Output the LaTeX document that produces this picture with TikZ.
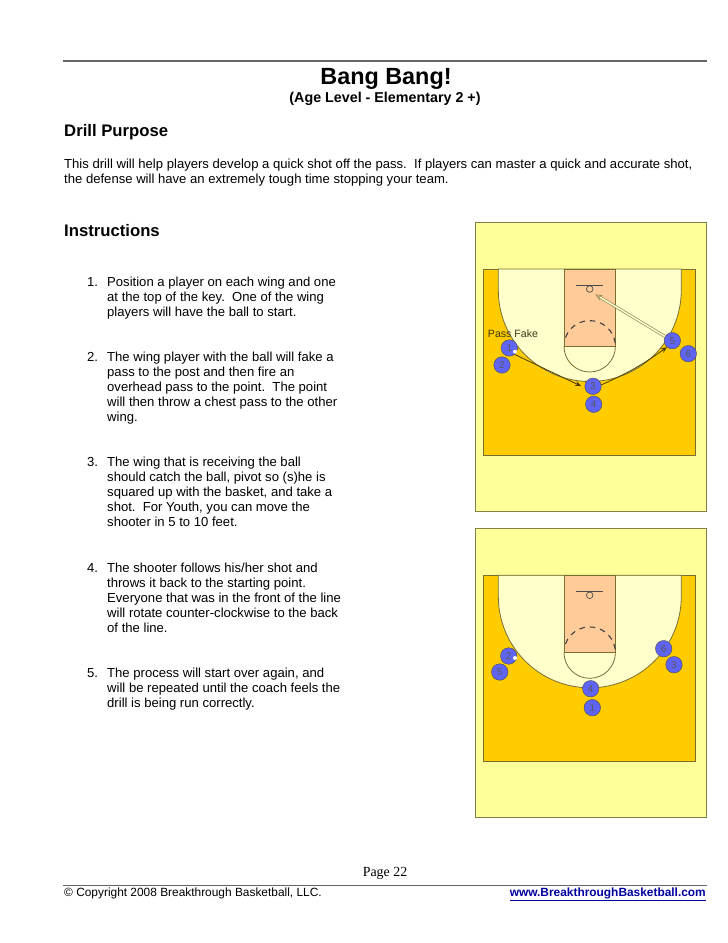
\documentclass[tikz,border=0pt]{standalone}
\usepackage{fontspec}
\setmainfont{Liberation Sans}
\newfontfamily\pagefont{Liberation Serif}
\usetikzlibrary{arrows.meta}
\definecolor{panelyellow}{RGB}{255,255,153}
\definecolor{courtgold}{RGB}{255,204,0}
\definecolor{laneorange}{RGB}{255,204,153}
\definecolor{arccream}{RGB}{255,255,204}
\definecolor{playerblue}{RGB}{95,100,245}
\definecolor{courtline}{RGB}{120,110,50}
\definecolor{linkblue}{RGB}{0,0,160}
\tikzset{
    bodytext/.style={anchor=north west, inner sep=0pt, align=left, font=\fontsize{13.1}{15}\selectfont},
    heading/.style={anchor=base west, inner sep=0pt, font=\fontsize{16.7}{18}\selectfont\bfseries},
    player/.style={circle, draw=black!70, fill=playerblue, minimum size=16.5pt, inner sep=0pt, font=\fontsize{10}{10}\selectfont, text=black!65},
    passline/.style={-{Stealth[length=6pt,width=5pt]}, draw=black!70!courtgold, line width=0.8pt},
}
% half court, (#1) is the top left corner of the gold floor
\newcommand{\drawcourt}[1]{
    \begin{scope}[shift={(#1)}]
        \draw[courtline, fill=courtgold, line width=0.9pt] (0,0) rectangle (212.5,186);
        \draw[courtline, fill=arccream, line width=0.8pt] (15,0) -- (15,21) arc[start angle=180, end angle=0, radius=91.5] -- (198,0) -- cycle;
        \draw[courtline, fill=arccream, line width=0.8pt] (80.7,77.3) arc[start angle=180, end angle=0, radius=25.7];
        \draw[courtline, fill=laneorange, line width=0.8pt] (80.7,0) rectangle (132,77.3);
        \draw[black!75, line width=1.1pt, dash pattern=on 5.5pt off 5pt] ([shift={(200:25.7)}]106.35,77.3) arc[start angle=200, end angle=360, radius=25.7];
        \draw[black!70, line width=0.8pt] (93,16.3) -- (120,16.3);
        \draw[black!70, line width=0.7pt] (106.4,20) circle (3.3);
    \end{scope}
}
\begin{document}
\begin{tikzpicture}[x=1pt, y=-1pt]
    \useasboundingbox (0,0) rectangle (728,943);
    \fill[white] (0,0) rectangle (728,943);

    % page rules
    \draw[black!60, line width=1.6pt] (63,60.7) -- (707,60.7);
    \draw[black!60, line width=1pt] (63,885) -- (707,885);

    % head of the page
    \node[anchor=base, inner sep=0pt, font=\fontsize{23.4}{25}\selectfont\bfseries] (title) at (386,84.3) {Bang Bang!};
    \node[anchor=base, inner sep=0pt, font=\fontsize{14.3}{16}\selectfont\bfseries] (subtitle) at (385,102.7) {(Age Level - Elementary 2 +)};
    \node[heading] (purpose) at (64,136.7) {Drill Purpose};
    \node[bodytext] (intro) at (64,158.5) {This drill will help players develop a quick shot off the pass.\ \ If players can master a quick and accurate shot,\\the defense will have an extremely tough time stopping your team.};
    \node[heading] (instructions) at (64,236.7) {Instructions};

    % numbered steps
    \node[bodytext] (num1) at (87,277) {1.};
    \node[bodytext] (step1) at (107,277) {Position a player on each wing and one\\at the top of the key.\ \ One of the wing\\players will have the ball to start.};
    \node[bodytext] (num2) at (87,352) {2.};
    \node[bodytext] (step2) at (107,352) {The wing player with the ball will fake a\\pass to the post and then fire an\\overhead pass to the point.\ \ The point\\will then throw a chest pass to the other\\wing.};
    \node[bodytext] (num3) at (87,457) {3.};
    \node[bodytext] (step3) at (107,457) {The wing that is receiving the ball\\should catch the ball, pivot so (s)he is\\squared up with the basket, and take a\\shot.\ \ For Youth, you can move the\\shooter in 5 to 10 feet.};
    \node[bodytext] (num4) at (87,563) {4.};
    \node[bodytext] (step4) at (107,563) {The shooter follows his/her shot and\\throws it back to the starting point.\\Everyone that was in the front of the line\\will rotate counter-clockwise to the back\\of the line.};
    \node[bodytext] (num5) at (87,668) {5.};
    \node[bodytext] (step5) at (107,668) {The process will start over again, and\\will be repeated until the coach feels the\\drill is being run correctly.};

    % yellow panels
    \draw[black!50!panelyellow, fill=panelyellow, line width=1pt] (475,222) rectangle (706,511);
    \draw[black!50!panelyellow, fill=panelyellow, line width=1pt] (475,528.3) rectangle (706,817);

    % first court
    \drawcourt{483.3,269}
    \node[anchor=base, inner sep=0pt, font=\fontsize{10.6}{11}\selectfont, text=black!50!courtline] (fake) at (513,337.7) {Pass Fake};
    \node[player] (a1) at (509.3,348) {1};
    \node[player] (a2) at (502,365) {2};
    \node[player] (a3) at (593,386.3) {3};
    \node[player] (a4) at (593.7,404.3) {4};
    \node[player] (a5) at (672.3,340.7) {5};
    \node[player] (a6) at (688.3,353.7) {6};
    \coordinate (rim1) at (595.3,294.3);
    \fill[white] (515,351.7) circle (2);
    \draw[passline, shorten >=4pt] (a1.-50) -- (a3.190);
    \draw[passline] (a3.10) to[bend right=6] (a5.-130);
    \draw[draw=courtline!80, double=arccream, double distance=1.5pt, line width=0.7pt, -{Stealth[length=7pt,width=6pt,open]}] (a5.150) -- (rim1);

    % second court
    \drawcourt{483.3,575.3}
    \node[player] (b2) at (508.7,656) {2};
    \node[player] (b5) at (499.7,672) {5};
    \node[player] (b4) at (590.7,688.7) {4};
    \node[player] (b1) at (592.3,707.7) {1};
    \node[player] (b6) at (663.7,648.7) {6};
    \node[player] (b3) at (674,664.7) {3};
    \fill[white] (515,658) circle (2);

    % foot of the page
    \node[anchor=base, inner sep=0pt, font=\pagefont\fontsize{13.9}{15}\selectfont] (page) at (385,876.7) {Page 22};
    \node[anchor=base west, inner sep=0pt, font=\fontsize{11.9}{14}\selectfont] (copyright) at (64,896.7) {© Copyright 2008 Breakthrough Basketball, LLC.};
    \node[anchor=base east, inner sep=0pt, font=\fontsize{11.9}{14}\selectfont\bfseries, text=linkblue] (site) at (706,896.7) {\underline{www.BreakthroughBasketball.com}};
\end{tikzpicture}
\end{document}
